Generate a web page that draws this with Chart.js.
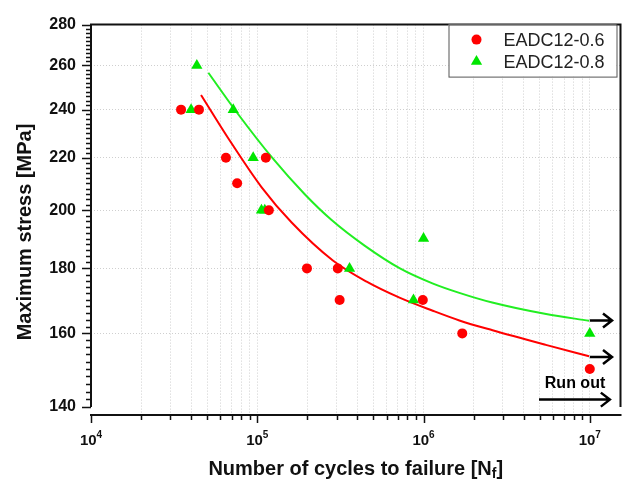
<!DOCTYPE html>
<html>
<head>
<meta charset="utf-8">
<script src="https://cdn.jsdelivr.net/npm/chart.js@4.4.1/dist/chart.umd.min.js"></script>
<style>
  html, body { margin: 0; padding: 0; background: #fff; }
</style>
</head>
<body>
<canvas id="myChart" width="627" height="479"></canvas>
<script>
// Series names
const seriesNames = ["EADC12-0.6", "EADC12-0.8"];

// Measured points (cycles, stress MPa)
const cyclesA = [34800, 44600, 64800, 75700, 112600, 117400, 199000, 305000, 313000, 990000, 1710000, 10000000];
const stressA = [240, 240, 220, 210, 220, 200, 180, 180, 170, 170, 160, 150];
const cyclesB = [43300, 40000, 71700, 94500, 106000, 111000, 359000, 870000, 1000000, 10000000];
const stressB = [260, 240, 240, 220, 200, 200, 180, 170, 190, 160];

// Fitted curves
const fitCyclesA = [45900, 66900, 106000, 161000, 285000, 452000, 717000, 1136000, 1642000, 2600000, 5440000, 9900000];
const fitStressA = [246.5, 227.9, 208.6, 195.6, 182.6, 175.8, 170.7, 166.7, 163.8, 160.9, 156.7, 153.5];
const fitCyclesB = [50800, 76800, 121800, 193000, 280000, 442000, 717000, 1131000, 1642000, 2590000, 5460000, 9900000];
const fitStressB = [256.6, 238.0, 220.3, 205.9, 196.5, 187.6, 180.1, 175.2, 172.2, 169.2, 165.7, 163.7];

// Run-out arrows
const arrowFromN = [10000000, 10000000, 4950000];
const arrowToN = [13600000, 13600000, 13200000];
const arrowS = [163.8, 153.3, 141.9];
const runOutLabel = "Run out";
const runOutN = 8150000;
const runOutS = 146.2;

// Axes
const xMajor = [1e4, 1e5, 1e6, 1e7];
const xExp = ["4", "5", "6", "7"];
const yTicks = [140, 160, 180, 200, 220, 240, 260, 280];

const FONT = '"Liberation Sans", Arial, sans-serif';
const RED = '#ff0000';
const GREEN = '#00e600';

// minor ticks 2..9 per decade for the x grid
let xGrid = [];
xMajor.forEach((m, i) => {
    if (i < xMajor.length - 1) {
        for (let k = 1; k < 10; k++) xGrid.push(m * k);
    } else {
        xGrid.push(m);
    }
});

function pts(xs, ys) {
    return xs.map((v, i) => ({x: v, y: ys[i]}));
}

const frame = {
    id: 'frame',
    afterDraw(chart) {
        const {ctx, chartArea: a, scales: {x, y}} = chart;
        const yTop = y.getPixelForValue(yTicks[yTicks.length - 1]);
        const yBot = y.getPixelForValue(yTicks[0]);
        ctx.save();
        ctx.strokeStyle = '#111';
        ctx.lineWidth = 2;
        ctx.beginPath();
        ctx.moveTo(a.left, yBot); ctx.lineTo(a.left, yTop);
        ctx.lineTo(a.right, yTop); ctx.lineTo(a.right, yBot);
        ctx.moveTo(a.left - 1, a.bottom); ctx.lineTo(a.right + 1, a.bottom);
        ctx.stroke();

        // tick marks
        ctx.lineWidth = 1.5;
        ctx.beginPath();
        for (let v = yTicks[0]; v <= yTicks[yTicks.length - 1]; v += 2) {
            const py = Math.round(y.getPixelForValue(v)) + 0.5;
            const len = v % 20 === 0 ? 9 : 5;
            ctx.moveTo(a.left, py); ctx.lineTo(a.left - len, py);
        }
        xGrid.forEach(v => {
            const px = Math.round(x.getPixelForValue(v)) + 0.5;
            const len = xMajor.includes(v) ? 8 : 5;
            ctx.moveTo(px, a.bottom); ctx.lineTo(px, a.bottom + len);
        });
        ctx.stroke();

        // x tick labels 10^n
        ctx.fillStyle = '#111';
        ctx.textBaseline = 'alphabetic';
        xMajor.forEach((v, i) => {
            const px = x.getPixelForValue(v);
            ctx.font = 'bold 15px ' + FONT;
            const w1 = ctx.measureText('10').width;
            ctx.font = 'bold 10px ' + FONT;
            const w2 = ctx.measureText(xExp[i]).width;
            const sx = px - (w1 + w2) / 2;
            ctx.font = 'bold 15px ' + FONT;
            ctx.fillText('10', sx, a.bottom + 30);
            ctx.font = 'bold 10px ' + FONT;
            ctx.fillText(xExp[i], sx + w1, a.bottom + 23);
        });

        // axis titles
        ctx.font = 'bold 20px ' + FONT;
        ctx.textAlign = 'center';
        ctx.textBaseline = 'middle';
        ctx.save();
        ctx.translate(25, 232);
        ctx.rotate(-Math.PI / 2);
        ctx.fillText('Maximum stress [MPa]', 0, 0);
        ctx.restore();

        ctx.textAlign = 'left';
        ctx.textBaseline = 'alphabetic';
        const t1 = 'Number of cycles to failure [N', t2 = 'f', t3 = ']';
        ctx.font = 'bold 20px ' + FONT;
        const w1 = ctx.measureText(t1).width, w3 = ctx.measureText(t3).width;
        ctx.font = 'bold 14px ' + FONT;
        const w2 = ctx.measureText(t2).width;
        let tx = (a.left + a.right) / 2 - (w1 + w2 + w3) / 2;
        const ty = 475;
        ctx.font = 'bold 20px ' + FONT;
        ctx.fillText(t1, tx, ty);
        ctx.font = 'bold 14px ' + FONT;
        ctx.fillText(t2, tx + w1, ty + 3);
        ctx.font = 'bold 20px ' + FONT;
        ctx.fillText(t3, tx + w1 + w2, ty);

        // run out arrows
        ctx.strokeStyle = '#000';
        ctx.lineWidth = 2.5;
        arrowS.forEach((s, i) => {
            const py = y.getPixelForValue(s);
            const x0 = x.getPixelForValue(arrowFromN[i]);
            const x1 = x.getPixelForValue(arrowToN[i]);
            ctx.beginPath();
            ctx.moveTo(x0, py); ctx.lineTo(x1, py);
            ctx.moveTo(x1 - 9, py - 7); ctx.lineTo(x1, py); ctx.lineTo(x1 - 9, py + 7);
            ctx.stroke();
        });
        ctx.font = 'bold 16px ' + FONT;
        ctx.textAlign = 'center';
        ctx.textBaseline = 'middle';
        ctx.fillStyle = '#000';
        ctx.fillText(runOutLabel, x.getPixelForValue(runOutN), y.getPixelForValue(runOutS));

        // legend box
        const bx = a.right - 172, by = yTop, bw = 168, bh = 52;
        ctx.fillStyle = '#fff';
        ctx.fillRect(bx, by, bw, bh);
        ctx.strokeStyle = '#555';
        ctx.lineWidth = 1;
        ctx.strokeRect(bx + 0.5, by + 0.5, bw, bh);
        ctx.font = '18px ' + FONT;
        ctx.textAlign = 'left';
        const rows = [by + 15, by + 37];
        ctx.fillStyle = RED;
        ctx.beginPath();
        ctx.arc(bx + 28, rows[0], 5, 0, Math.PI * 2);
        ctx.fill();
        ctx.fillStyle = GREEN;
        ctx.beginPath();
        const r = 6.5;
        ctx.moveTo(bx + 28, rows[1] - r);
        ctx.lineTo(bx + 28 + r * 0.866, rows[1] + r / 2);
        ctx.lineTo(bx + 28 - r * 0.866, rows[1] + r / 2);
        ctx.closePath();
        ctx.fill();
        ctx.fillStyle = '#222';
        ctx.fillText(seriesNames[0], bx + 55, rows[0] + 1);
        ctx.fillText(seriesNames[1], bx + 55, rows[1] + 1);
        ctx.restore();
    }
};

const ctx = document.getElementById('myChart');
let myChart = new Chart(ctx, {
    type: 'scatter',
    data: {
        datasets: [{
            label: seriesNames[0],
            data: pts(cyclesA, stressA),
            pointStyle: 'circle',
            pointRadius: 5,
            backgroundColor: RED,
            borderWidth: 0,
            order: 0
        }, {
            label: seriesNames[1],
            data: pts(cyclesB, stressB),
            pointStyle: 'triangle',
            pointRadius: 6.5,
            backgroundColor: GREEN,
            borderWidth: 0,
            order: 0
        }, {
            label: seriesNames[0] + ' fit',
            data: pts(fitCyclesA, fitStressA),
            showLine: true,
            pointRadius: 0,
            borderColor: RED,
            borderWidth: 2,
            cubicInterpolationMode: 'monotone',
            order: 1
        }, {
            label: seriesNames[1] + ' fit',
            data: pts(fitCyclesB, fitStressB),
            showLine: true,
            pointRadius: 0,
            borderColor: '#22ee22',
            borderWidth: 2,
            cubicInterpolationMode: 'monotone',
            order: 1
        }]
    },
    options: {
        responsive: false,
        animation: false,
        layout: { padding: { top: 16, right: 6, left: 0, bottom: 0 } },
        plugins: {
            legend: { display: false },
            tooltip: { enabled: false }
        },
        scales: {
            x: {
                type: 'logarithmic',
                min: 1e4,
                max: 1.53e7,
                afterBuildTicks: (scale) => { scale.ticks = xGrid.map(v => ({value: v})); },
                afterFit: (scale) => { scale.height = 64; },
                ticks: { display: false },
                border: { display: false, dash: [1, 2] },
                grid: {
                    drawTicks: false,
                    color: (c) => c.tick && c.tick.value === 1e4 ? 'rgba(0,0,0,0)' : '#cfcfcf',
                    lineWidth: 1
                }
            },
            y: {
                type: 'logarithmic',
                min: 138,
                max: 280,
                afterBuildTicks: (scale) => { scale.ticks = yTicks.map(v => ({value: v})); },
                afterFit: (scale) => { scale.width = 91; },
                ticks: {
                    autoSkip: false,
                    padding: 15,
                    color: '#111',
                    font: { family: FONT, size: 16, weight: 'bold' },
                    callback: (v) => String(v)
                },
                border: { display: false, dash: [1, 2] },
                grid: {
                    drawTicks: false,
                    color: (c) => c.tick && (c.tick.value === 140 || c.tick.value === 280) ? 'rgba(0,0,0,0)' : '#cfcfcf',
                    lineWidth: 1
                }
            }
        }
    },
    plugins: [frame]
});
</script>
</body>
</html>
